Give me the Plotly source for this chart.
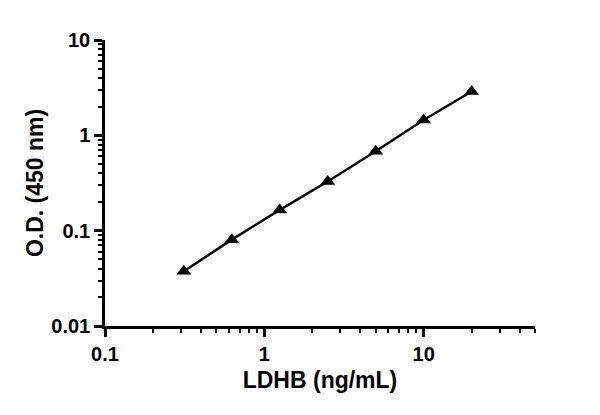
import plotly.graph_objects as go

conc = [0.3125, 0.625, 1.25, 2.5, 5, 10, 20]
od = [0.0375, 0.0805, 0.165, 0.328, 0.68, 1.45, 2.88]

x_tickvals = [0.1, 1, 10]
x_ticktext = ["0.1", "1", "10"]
y_tickvals = [0.01, 0.1, 1, 10]
y_ticktext = ["0.01", "0.1", "1", "10"]

font_family = "Liberation Sans, Arial, sans-serif"

fig = go.Figure()
fig.add_trace(go.Scatter(
    x=conc, y=od, mode="lines+markers",
    line=dict(color="black", width=2.5),
    marker=dict(symbol="triangle-up", size=13, color="black"),
    showlegend=False,
))

axis_common = dict(
    showline=True, linecolor="black", linewidth=2.5,
    ticks="outside", ticklen=8, tickwidth=2.5, tickcolor="black",
    showgrid=False, zeroline=False, automargin=False,
    tickfont=dict(family=font_family, size=20, color="black", weight="bold"),
    minor=dict(dtick="D1", ticks="outside", ticklen=4, tickwidth=2, tickcolor="black", showgrid=False),
)

fig.update_xaxes(
    type="log", range=[-1, 1.69897],
    tickvals=x_tickvals, ticktext=x_ticktext,
    title=dict(text="<b>LDHB (ng/mL)</b>", font=dict(family=font_family, size=23, color="black"), standoff=9),
    **axis_common,
)
fig.update_yaxes(
    type="log", range=[-2, 1],
    tickvals=y_tickvals, ticktext=y_ticktext,
    title=dict(text="<b>O.D. (450 nm)</b>", font=dict(family=font_family, size=23, color="black"), standoff=2),
    **axis_common,
)

fig.update_layout(
    width=600, height=415,
    margin=dict(l=105, r=65, t=40, b=89),
    plot_bgcolor="white", paper_bgcolor="white",
)

fig.write_html("out.html", config={"displayModeBar": False},
               post_script="document.body.style.margin='0';")
